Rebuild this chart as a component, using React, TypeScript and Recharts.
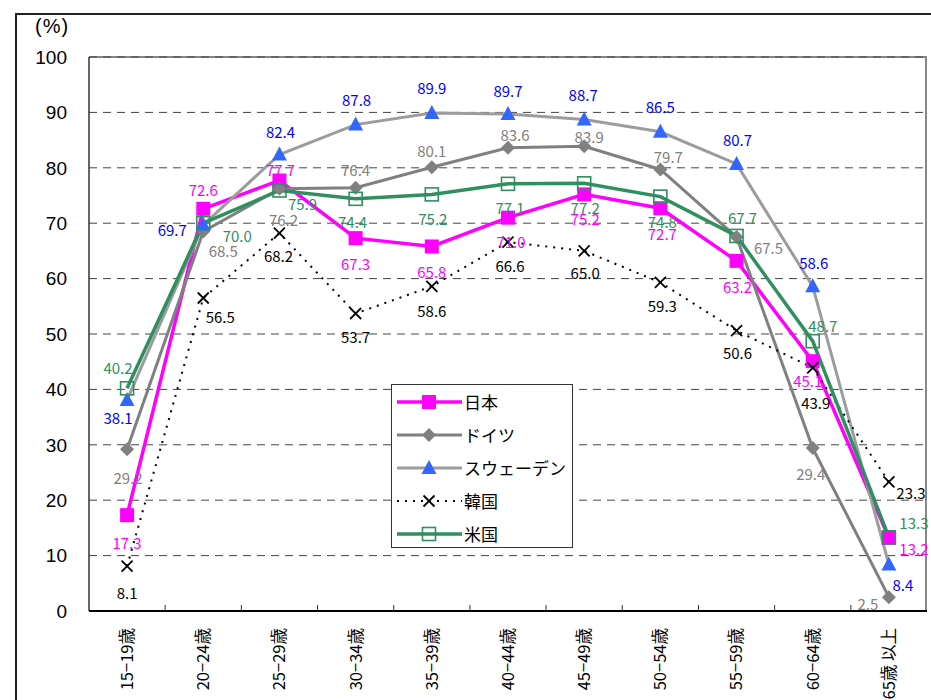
import React from 'react'
import { LineChart, Line, XAxis, YAxis, CartesianGrid, LabelList } from 'recharts'

const ageGroups = [
  '15−19歳',
  '20−24歳',
  '25−29歳',
  '30−34歳',
  '35−39歳',
  '40−44歳',
  '45−49歳',
  '50−54歳',
  '55−59歳',
  '60−64歳',
  '65歳 以上',
]

const japan = [17.3, 72.6, 77.7, 67.3, 65.8, 71.0, 75.2, 72.7, 63.2, 45.1, 13.2]
const germany = [29.2, 68.5, 76.2, 76.4, 80.1, 83.6, 83.9, 79.7, 67.5, 29.4, 2.5]
const sweden = [38.1, 69.7, 82.4, 87.8, 89.9, 89.7, 88.7, 86.5, 80.7, 58.6, 8.4]
const korea = [8.1, 56.5, 68.2, 53.7, 58.6, 66.6, 65.0, 59.3, 50.6, 43.9, 23.3]
const usa = [40.2, 70.0, 75.9, 74.4, 75.2, 77.1, 77.2, 74.8, 67.7, 48.7, 13.3]

const yTicks = [0, 10, 20, 30, 40, 50, 60, 70, 80, 90, 100]

// label nudges (dx, dy) so the value labels don't sit on top of each other
const japanLabelPos = [[0, 27], [0, -19], [1, -11], [0, 25], [0, 25], [3, 24], [1, 24], [2, 25], [1, 26], [-5, 19], [25, 11]]
const germanyLabelPos = [[1, 28], [20, 19], [4, 31], [0, -18], [0, -17], [7, -13], [5, -10], [8, -13], [32, 10], [-2, 25], [-21, 6]]
const swedenLabelPos = [[-9, 18], [-31, 5], [1, -23], [1, -25], [0, -25], [0, -24], [-1, -25], [0, -25], [1, -24], [1, -24], [14, 20]]
const koreaLabelPos = [[0, 26], [17, 19], [-1, 22], [0, 23], [0, 24], [2, 23], [1, 22], [2, 23], [1, 22], [3, 35], [22, 11]]
const usaLabelPos = [[-9, -21], [34, 12], [23, 13], [-3, 23], [1, 24], [2, 24], [1, 24], [2, 25], [6, -18], [10, -16], [25, -15]]

const W = 931
const H = 700
const PLOT_LEFT = 89
const PLOT_TOP = 57
const PLOT_RIGHT = 927
const PLOT_BOTTOM = 611
const PLOT_W = PLOT_RIGHT - PLOT_LEFT
const STEP = PLOT_W / ageGroups.length

const FONT = "'Noto Sans CJK JP', 'Liberation Sans', sans-serif"
const NUM_FONT = "'Liberation Sans', 'Noto Sans CJK JP', sans-serif"

const data = ageGroups.map((age, i) => ({
  age,
  japan: japan[i],
  germany: germany[i],
  sweden: sweden[i],
  korea: korea[i],
  usa: usa[i],
}))

type DotProps = { cx?: number; cy?: number }

const SquareDot = ({ cx = 0, cy = 0 }: DotProps) => (
  <rect x={cx - 7} y={cy - 7} width={14} height={14} fill="#FF00FF" />
)
const DiamondDot = ({ cx = 0, cy = 0 }: DotProps) => (
  <polygon
    points={`${cx},${cy - 7} ${cx + 7},${cy} ${cx},${cy + 7} ${cx - 7},${cy}`}
    fill="#808080"
  />
)
const TriangleDot = ({ cx = 0, cy = 0 }: DotProps) => (
  <polygon
    points={`${cx},${cy - 8} ${cx + 7.5},${cy + 6} ${cx - 7.5},${cy + 6}`}
    fill="#3366FF"
  />
)
const CrossDot = ({ cx = 0, cy = 0 }: DotProps) => (
  <g stroke="#000" strokeWidth={1.8}>
    <line x1={cx - 5.5} y1={cy - 5.5} x2={cx + 5.5} y2={cy + 5.5} />
    <line x1={cx - 5.5} y1={cy + 5.5} x2={cx + 5.5} y2={cy - 5.5} />
  </g>
)
const HollowSquareDot = ({ cx = 0, cy = 0 }: DotProps) => (
  <rect x={cx - 6.5} y={cy - 6.5} width={13} height={13} fill="none" stroke="#2F8F5F" strokeWidth={1.6} />
)

const series = [
  { key: 'japan', name: '日本', stroke: '#FF00FF', width: 3.5, dash: undefined, Dot: SquareDot, labelColor: '#FF00FF', pos: japanLabelPos },
  { key: 'germany', name: 'ドイツ', stroke: '#808080', width: 3, dash: undefined, Dot: DiamondDot, labelColor: '#808080', pos: germanyLabelPos },
  { key: 'sweden', name: 'スウェーデン', stroke: '#9C9C9C', width: 3, dash: undefined, Dot: TriangleDot, labelColor: '#0000FF', pos: swedenLabelPos },
  { key: 'korea', name: '韓国', stroke: '#000000', width: 2, dash: '2 6', Dot: CrossDot, labelColor: '#000000', pos: koreaLabelPos },
  { key: 'usa', name: '米国', stroke: '#2F8F5F', width: 3.5, dash: undefined, Dot: HollowSquareDot, labelColor: '#2F8F5F', pos: usaLabelPos },
]

const makeLabel = (color: string, pos: number[][]) => (props: any) => {
  const { x, y, value, index } = props
  const [dx, dy] = pos[index] || [0, -16]
  return (
    <text
      x={x + dx}
      y={y + dy}
      textAnchor="middle"
      dominantBaseline="central"
      fontSize={15}
      fontFamily={FONT}
      fill={color}
    >
      {Number(value).toFixed(1)}
    </text>
  )
}

const AgeTick = (props: any) => {
  const { x, y, payload, index } = props
  return (
    <g>
      {index < ageGroups.length - 1 && (
        <line x1={x + STEP / 2} x2={x + STEP / 2} y1={y - 6} y2={y} stroke="#333" strokeWidth={1} />
      )}
      <text
        transform={`translate(${x},${y}) rotate(-90)`}
        x={-17}
        y={0}
        dy="0.36em"
        textAnchor="end"
        fontSize={16.5}
        fontFamily={FONT}
        fill="#000"
      >
        {payload.value}
      </text>
    </g>
  )
}

function LegendBox() {
  return (
    <div
      style={{
        position: 'absolute',
        left: 391,
        top: 384,
        width: 182,
        height: 164,
        boxSizing: 'border-box',
        border: '1px solid #333',
        background: '#fff',
        fontFamily: FONT,
      }}
    >
      {series.map((s) => (
        <div key={s.key} style={{ height: 33, display: 'flex', alignItems: 'center' }}>
          <svg width={70} height={20} style={{ marginLeft: 3, flex: 'none' }}>
            <line x1={2} x2={67} y1={10} y2={10} stroke={s.stroke} strokeWidth={s.width} strokeDasharray={s.dash} />
            <s.Dot cx={34} cy={10} />
          </svg>
          <span style={{ fontSize: 17, marginLeft: -1, color: '#000', whiteSpace: 'nowrap' }}>{s.name}</span>
        </div>
      ))}
    </div>
  )
}

export default function App() {
  return (
    <div style={{ position: 'absolute', left: 0, top: 0, width: W, height: H, overflow: 'hidden', background: '#fff' }}>
      {/* outer frame */}
      <div
        style={{
          position: 'absolute',
          left: 15,
          top: 13,
          width: W,
          height: H,
          borderTop: '2px solid #222',
          borderLeft: '2px solid #222',
        }}
      />
      {/* plot area border (top / right) */}
      <div
        style={{
          position: 'absolute',
          left: PLOT_LEFT,
          top: PLOT_TOP - 1,
          width: PLOT_W,
          height: PLOT_BOTTOM - PLOT_TOP,
          boxSizing: 'border-box',
          borderTop: '2px solid #888',
          borderRight: '2px solid #888',
        }}
      />
      <div
        style={{
          position: 'absolute',
          left: 35,
          top: 14,
          fontSize: 20,
          lineHeight: '24px',
          letterSpacing: 1,
          fontFamily: NUM_FONT,
          color: '#000',
        }}
      >
        (%)
      </div>
      <div style={{ position: 'absolute', left: 0, top: 0 }}>
        <LineChart
          width={W}
          height={H}
          data={data}
          margin={{ top: PLOT_TOP, right: W - PLOT_RIGHT, bottom: 0, left: 0 }}
        >
          <CartesianGrid vertical={false} stroke="#444" strokeDasharray="8 6" />
          <XAxis
            dataKey="age"
            height={H - PLOT_BOTTOM}
            padding={{ left: STEP / 2, right: STEP / 2 }}
            interval={0}
            tickLine={false}
            tickSize={0}
            tickMargin={0}
            axisLine={{ stroke: '#000', strokeWidth: 2 }}
            tick={<AgeTick />}
          />
          <YAxis
            domain={[0, 100]}
            ticks={yTicks}
            interval={0}
            width={PLOT_LEFT}
            tickLine={false}
            tickSize={0}
            tickMargin={22}
            axisLine={{ stroke: '#333', strokeWidth: 1.5 }}
            tick={{ fontSize: 19, fill: '#000', fontFamily: NUM_FONT }}
          />
          {series.map((s) => (
            <Line
              key={s.key}
              dataKey={s.key}
              name={s.name}
              type="linear"
              stroke={s.stroke}
              strokeWidth={s.width}
              strokeDasharray={s.dash}
              dot={<s.Dot />}
              activeDot={false}
              isAnimationActive={false}
            >
              <LabelList dataKey={s.key} content={makeLabel(s.labelColor, s.pos)} />
            </Line>
          ))}
        </LineChart>
      </div>
      <LegendBox />
    </div>
  )
}
